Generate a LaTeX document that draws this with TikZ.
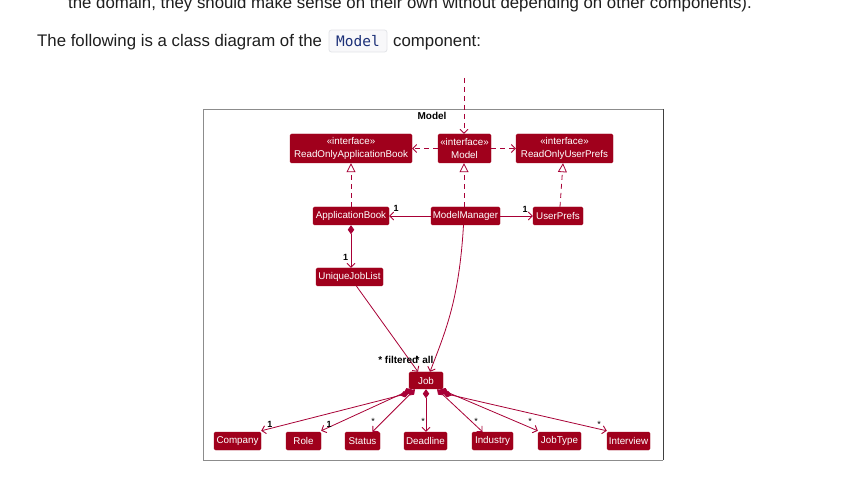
\documentclass[tikz,border=0pt]{standalone}
\usepackage{fontspec}
\setmainfont{Liberation Sans}
\setmonofont{DejaVu Sans Mono}
\usetikzlibrary{arrows.meta,calc}
\definecolor{umlfill}{RGB}{160,0,28}
\definecolor{umlline}{RGB}{168,0,54}
\definecolor{bodytext}{RGB}{31,31,31}
\definecolor{codeblue}{RGB}{28,48,120}
\definecolor{codebg}{RGB}{248,248,250}
\definecolor{codeborder}{RGB}{226,228,232}
\definecolor{framegray}{RGB}{140,140,140}
\begin{document}
\begin{tikzpicture}[x=1pt,y=-1pt,
  cls/.style={fill=umlfill, draw=umlfill, line width=0.4pt, rounded corners=1.5pt,
    text=white, inner sep=0pt, align=center,
    font=\fontsize{9.8}{13.5}\selectfont},
  lbl/.style={inner sep=0pt, font=\fontsize{9}{10}\selectfont, text=black},
  blbl/.style={lbl, font=\bfseries\fontsize{9}{10}\selectfont},
  assoc/.style={draw=umlline, line width=0.8pt, -{Straight Barb[length=3.8pt,width=8pt,line width=0.9pt]}},
  dep/.style={assoc, dash pattern=on 5pt off 4pt},
  real/.style={draw=umlline, line width=0.8pt, dash pattern=on 5pt off 4pt,
    -{Triangle[open,length=9pt,width=9pt,fill=white,line width=0.8pt]}},
  comp/.style={draw=umlline, line width=0.8pt,
    {Diamond[length=9pt,width=6.5pt]}-{Straight Barb[length=3.8pt,width=8pt,line width=0.9pt]}},
  body/.style={inner sep=0pt, anchor=base west, text=bodytext, font=\fontsize{16.8}{20}\selectfont}
]
\useasboundingbox[fill=white] (0,0) rectangle (868,494);
\clip (0,0) rectangle (868,494);

% page text
\node[body] (prev) at (68,8.3) {the domain, they should make sense on their own without depending on other components).};
\node[body] (intro) at (37,46.5) {The following is a class diagram of the};
\node[draw=codeborder, fill=codebg, rounded corners=2.5pt, line width=0.8pt,
  minimum width=58pt, minimum height=22pt, inner sep=0pt, text=codeblue,
  font=\ttfamily\fontsize{14.5}{16}\selectfont] (code) at (358,41) {Model};
\node[body] (comp) at (393,46.5) {component:};

% frame
\draw[framegray, line width=0.9pt] (663,460) -- (203,460) -- (203,109) -- (663,109);
\draw[black!75, line width=0.9pt] (663,109) -- (663,460);
\node[inner sep=0pt, font=\bfseries\fontsize{10}{11}\selectfont] (title) at (432,116) {Model};

% classes
\node[cls, minimum width=122pt, minimum height=29pt] (roab) at (351,148.5) {«interface»\\ReadOnlyApplicationBook};
\node[cls, minimum width=53pt, minimum height=29pt] (imodel) at (464.5,148.5) {«interface»\\Model};
\node[cls, minimum width=97pt, minimum height=29pt] (roup) at (564.5,148.5) {«interface»\\ReadOnlyUserPrefs};
\node[cls, minimum width=76pt, minimum height=18pt] (ab) at (351,216) {ApplicationBook};
\node[cls, minimum width=69pt, minimum height=18pt] (mm) at (465.5,216) {ModelManager};
\node[cls, minimum width=50pt, minimum height=18pt] (up) at (558,216) {UserPrefs};
\node[cls, minimum width=67pt, minimum height=18pt] (ujl) at (349.5,277) {UniqueJobList};
\node[cls, minimum width=34pt, minimum height=17pt] (job) at (426,380.5) {Job};
\node[cls, minimum width=47pt, minimum height=18pt] (company) at (237.5,441) {Company};
\node[cls, minimum width=35pt, minimum height=18pt] (role) at (303.5,441) {Role};
\node[cls, minimum width=35pt, minimum height=18pt] (status) at (362.5,441) {Status};
\node[cls, minimum width=43pt, minimum height=18pt] (deadline) at (425.5,441) {Deadline};
\node[cls, minimum width=41pt, minimum height=18pt] (industry) at (492.5,441) {Industry};
\node[cls, minimum width=43pt, minimum height=18pt] (jobtype) at (559.5,441) {JobType};
\node[cls, minimum width=43pt, minimum height=18pt] (interview) at (628.5,441) {Interview};

% connectors
\coordinate (ext) at (464,78);
\draw[dep] (ext) -- (imodel.north -| ext);
\draw[dep] (imodel.west) -- (roab.east);
\draw[dep] (imodel.east) -- (roup.west);
\draw[real] (ab.north) -- (roab.south);
\draw[real] (mm.north -| ext) -- (imodel.south -| ext);
\draw[real] ([xshift=2pt]up.north) -- ([xshift=-1.5pt]roup.south);
\draw[assoc] (mm.west) -- (ab.east);
\draw[assoc] (mm.east) -- (up.west);
\draw[comp] (ab.south) -- (ab.south |- ujl.north);
\draw[assoc] ([xshift=7pt]ujl.south) -- ([xshift=-8pt]job.north);
\draw[assoc] ([xshift=-2pt]mm.south) .. controls (459,300) and (446,330) .. ([xshift=4pt]job.north);

\draw[comp] ([yshift=-4pt]job.south west) -- ([yshift=1pt]company.north east);
\draw[comp] ([xshift=3pt]job.south west) -- ([yshift=1pt]role.north east);
\draw[comp] ([xshift=-11pt]job.south) -- ([xshift=10pt]status.north);
\draw[comp] (job.south) -- (job.south |- deadline.north);
\draw[comp] ([xshift=11pt]job.south) -- ([xshift=-10pt]industry.north);
\draw[comp] ([xshift=-3pt]job.south east) -- ([yshift=1pt]jobtype.north west);
\draw[comp] ([yshift=-4pt]job.south east) -- ([yshift=1pt]interview.north west);

% multiplicity labels
\node[blbl] (m1) at (396,208.5) {1};
\node[blbl] (m2) at (525,209.5) {1};
\node[blbl] (m3) at (345.5,257.5) {1};
\node[blbl, font=\bfseries\fontsize{10}{11}\selectfont, anchor=east] (m4) at (418.5,360) {* filtered};
\node[blbl, font=\bfseries\fontsize{10}{11}\selectfont, anchor=west] (m5) at (415.5,360) {* all};
\node[blbl] (m6) at (270,424) {1};
\node[blbl] (m7) at (329,424) {1};
\node[lbl] (m8) at (373,421) {*};
\node[lbl] (m9) at (423,421) {*};
\node[lbl] (m10) at (476,421) {*};
\node[lbl] (m11) at (530,421) {*};
\node[lbl] (m12) at (599,424) {*};
\end{tikzpicture}
\end{document}
